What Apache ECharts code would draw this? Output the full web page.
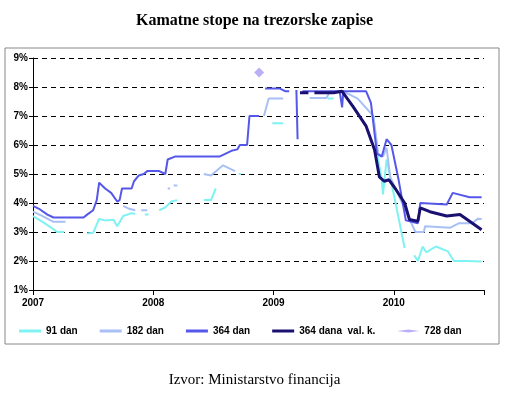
<!DOCTYPE html>
<html><head><meta charset="utf-8">
<script src="https://cdn.jsdelivr.net/npm/echarts@6/dist/echarts.min.js"></script>
<style>html,body{margin:0;padding:0;background:#fff}#c{width:509px;height:404px}</style>
</head><body><div id="c"></div>
<script>
const yearTicks = [2007, 2008, 2009, 2010];
const d91 = [[2007,3.55],[2007.08,3.35],[2007.17,3.1],[2007.2,3.0],[2007.26,3.0],[2007.27,null],
 [2007.45,2.95],[2007.5,2.97],[2007.55,3.45],[2007.6,3.4],[2007.67,3.42],[2007.7,3.2],[2007.75,3.55],[2007.82,3.65],[2007.85,3.62],[2007.86,null],
 [2007.93,3.6],[2007.96,3.6],[2007.97,null],[2008.05,3.75],[2008.1,3.85],[2008.15,4.05],[2008.2,4.1],[2008.21,null],
 [2008.42,4.1],[2008.48,4.1],[2008.52,4.5],[2008.53,null],[2008.71,5.0],[2008.73,5.0],[2008.74,null],
 [2008.99,6.75],[2009.08,6.75],[2009.09,null],[2009.45,7.6],[2009.5,7.6],[2009.51,null],
 [2009.83,7.0],[2009.87,5.5],[2009.9,4.8],[2009.91,4.3],[2009.94,5.5],[2010.0,4.3],[2010.09,2.45],[2010.1,null],
 [2010.17,2.2],[2010.2,2.0],[2010.24,2.5],[2010.27,2.3],[2010.35,2.5],[2010.45,2.33],[2010.5,2.0],[2010.6,2.0],[2010.73,1.98]];
const d182 = [[2007,3.7],[2007.08,3.55],[2007.17,3.35],[2007.27,3.35],[2007.28,null],
 [2007.75,3.9],[2007.8,3.8],[2007.85,3.75],[2007.86,null],[2007.9,3.75],[2007.95,3.75],[2007.96,null],
 [2008.12,4.5],[2008.14,4.5],[2008.15,null],[2008.17,4.6],[2008.2,4.6],[2008.21,null],
 [2008.42,5.0],[2008.48,4.95],[2008.58,5.3],[2008.68,5.1],[2008.7,null],
 [2008.92,7.0],[2008.96,7.6],[2009.08,7.6],[2009.09,null],[2009.3,7.62],[2009.44,7.62],[2009.47,7.85],[2009.58,7.85],
 [2009.7,7.6],[2009.83,7.0],[2009.87,5.7],[2009.91,5.6],[2009.94,5.9],[2009.97,4.9],[2010.08,3.9],[2010.18,3.0],[2010.25,3.0],
 [2010.26,3.2],[2010.47,3.15],[2010.54,3.3],[2010.65,3.3],[2010.7,3.46],[2010.73,3.45]];
const d364 = [[2007,3.9],[2007.05,3.8],[2007.12,3.6],[2007.17,3.5],[2007.42,3.5],[2007.45,3.6],[2007.5,3.75],[2007.53,4.1],[2007.55,4.7],
 [2007.6,4.5],[2007.65,4.35],[2007.7,4.05],[2007.72,4.1],[2007.74,4.5],[2007.82,4.5],[2007.84,4.75],[2007.88,4.95],[2007.92,5.0],
 [2007.95,5.1],[2008.05,5.1],[2008.1,5.0],[2008.12,5.5],[2008.18,5.6],[2008.5,5.6],[2008.55,5.6],[2008.65,5.8],[2008.7,5.85],[2008.72,6.0],
 [2008.78,6.0],[2008.8,7.0],[2008.88,7.0],[2008.89,null],[2008.93,7.95],[2009.05,7.95],[2009.1,7.85],[2009.13,7.85],[2009.14,null],
 [2009.19,7.9],[2009.2,6.2],[2009.21,null],[2009.24,7.85],[2009.55,7.85],[2009.57,7.3],[2009.58,7.85],[2009.77,7.85],[2009.81,7.45],
 [2009.86,5.7],[2009.9,5.6],[2009.94,6.2],[2009.98,6.0],[2010.04,4.8],[2010.1,3.4],[2010.2,3.3],[2010.22,4.0],[2010.44,3.95],
 [2010.49,4.35],[2010.63,4.2],[2010.73,4.2]];
const d364vk = [[2009.22,7.8],[2009.29,7.8],[2009.3,null],[2009.34,7.8],[2009.5,7.8],[2009.57,7.85],[2009.66,7.33],[2009.77,6.65],
 [2009.84,5.84],[2009.88,4.9],[2009.92,4.75],[2009.96,4.8],[2010.02,4.45],[2010.09,4.0],[2010.13,3.43],[2010.2,3.37],[2010.22,3.83],
 [2010.3,3.7],[2010.44,3.55],[2010.55,3.6],[2010.63,3.37],[2010.73,3.08]];
const d728 = [[2008.88,8.5]];
const names = ['91 dan','182 dan','364 dan','364 dana  val. k.','728 dan'];
const colors = ['#7ff2f2','#a8c0f5','#5557e8','#1a1070','#a99cf2'];

const chart = echarts.init(document.getElementById('c'));
const line = (i, d, w) => ({name: names[i], type:'line', data:d, showSymbol:false, connectNulls:false,
  lineStyle:{color:colors[i], width:w}, itemStyle:{color:colors[i]}, z:2+i});
chart.setOption({
  animation:false,
  title:{text:'Kamatne stope na trezorske zapise', left:'center', top:8,
    textStyle:{fontFamily:'Liberation Serif', fontSize:16, fontWeight:'bold', color:'#000'}},
  graphic:[
    {type:'rect', shape:{x:5,y:48,width:494,height:296}, style:{fill:'none', stroke:'#888', lineWidth:1}},
    {type:'text', left:'center', top:373, style:{text:'Izvor: Ministarstvo financija', font:'15px "Liberation Serif"', fill:'#000'}}
  ],
  grid:{left:33, right:25, top:58, bottom:114},
  legend:{bottom:63, left:14, itemGap:22, itemWidth:22, itemHeight:3,
    textStyle:{fontFamily:'Liberation Sans', fontWeight:'bold', fontSize:10, color:'#000'},
    data:names.map((n,i)=>({name:n, icon: i===4 ? 'diamond':'rect', itemStyle:{color:colors[i]}}))},
  xAxis:{type:'value', min:2007, max:2010.75, interval:1,
    axisLine:{lineStyle:{color:'#000'}}, axisTick:{show:true, lineStyle:{color:'#000'}},
    splitLine:{show:false},
    axisLabel:{formatter:v=>yearTicks.includes(v)?String(v):'', fontFamily:'Liberation Sans', fontWeight:'bold', fontSize:10, color:'#000', margin:8}},
  yAxis:{type:'value', min:1, max:9, interval:1,
    axisLine:{show:true, lineStyle:{color:'#000'}}, axisTick:{show:true, length:4, lineStyle:{color:'#000'}},
    splitLine:{lineStyle:{color:'#000', type:[5,4], width:1}},
    axisLabel:{formatter:'{value}%', fontFamily:'Liberation Sans', fontWeight:'bold', fontSize:10, color:'#000', margin:5}},
  series:[
    line(0,d91,2), line(1,d182,2), line(2,d364,2), line(3,d364vk,3),
    {name:names[4], type:'scatter', data:d728, symbol:'diamond', symbolSize:10, itemStyle:{color:colors[4]}}
  ]
});
</script></body></html>
